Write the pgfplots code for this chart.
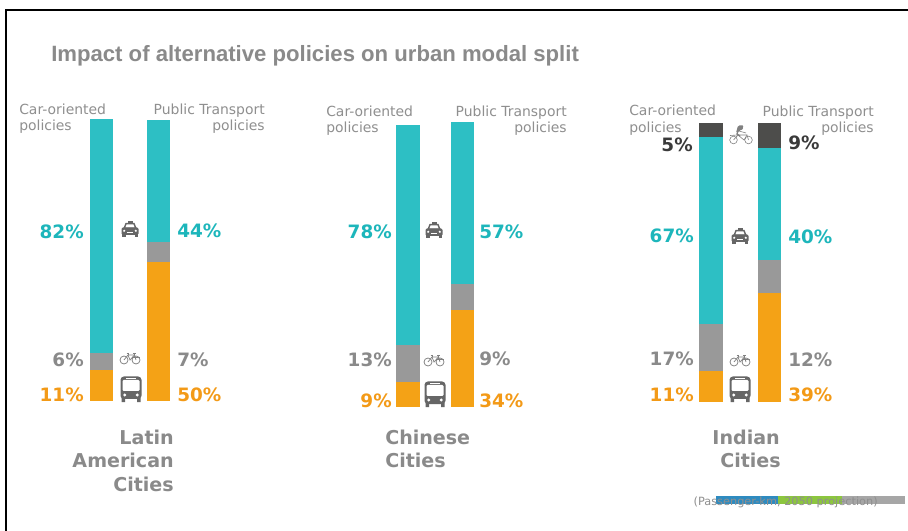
\documentclass[border=0pt]{standalone}
\usepackage{fontspec}
\usepackage{pgfplots}
\pgfplotsset{compat=1.18}
\setmainfont{DejaVu Sans}
\newfontfamily\titlefont{Liberation Sans}
\definecolor{carteal}{HTML}{2DBFC4}
\definecolor{slowgray}{HTML}{999999}
\definecolor{busorange}{HTML}{F4A216}
\definecolor{threedark}{HTML}{4D4D4B}
\definecolor{labteal}{HTML}{1DB6BB}
\definecolor{laborange}{HTML}{F39A17}
\definecolor{labgray}{HTML}{8A8A8A}
\definecolor{labdark}{HTML}{3A3A3A}
\definecolor{noteg}{HTML}{8F8F8F}
\definecolor{icon}{HTML}{666666}
\definecolor{iconlight}{HTML}{808080}
\definecolor{stripblue}{HTML}{2E8BC0}
\definecolor{stripgreen}{HTML}{8CC63F}
\definecolor{stripgray}{HTML}{A6A6A6}

% One stacked column: left, bottom, width, height (px), then
% public transport, slow modes, car, three-wheeler shares and their sum
\newcommand{\modalbar}[9]{%
\begin{axis}[at={(#1*0.75pt,-#2*0.75pt)},anchor=south west,scale only axis,
  width=#3*0.75pt,height=#4*0.75pt,hide axis,
  ybar stacked,bar width=#3*0.75pt,
  xmin=-0.5,xmax=0.5,ymin=0,ymax=#9,enlargelimits=false]
\addplot[fill=busorange,draw=none] coordinates {(0,#5)};
\addplot[fill=slowgray,draw=none] coordinates {(0,#6)};
\addplot[fill=carteal,draw=none] coordinates {(0,#7)};
\addplot[fill=threedark,draw=none] coordinates {(0,#8)};
\end{axis}}

\newcommand{\pctL}[4]{\node[anchor=base east,inner sep=0,text=#4,font=\fontsize{13.8pt}{15pt}\selectfont\bfseries] at (#1,#2+1) {#3\%};}
\newcommand{\pctR}[4]{\node[anchor=base west,inner sep=0,text=#4,font=\fontsize{13.8pt}{15pt}\selectfont\bfseries] at (#1,#2+1) {#3\%};}
\newcommand{\noteL}[3]{\node[anchor=base west,inner sep=0,text=noteg,font=\fontsize{10.45pt}{12pt}\selectfont] at (#1,#2) {#3};}
\newcommand{\noteR}[3]{\node[anchor=base east,inner sep=0,text=noteg,font=\fontsize{10.45pt}{12pt}\selectfont] at (#1,#2) {#3};}
\newcommand{\cityL}[3]{\node[anchor=base west,inner sep=0,text=labgray,font=\fontsize{14.3pt}{17pt}\selectfont\bfseries] at (#1,#2) {#3};}
\newcommand{\cityR}[3]{\node[anchor=base east,inner sep=0,text=labgray,font=\fontsize{14.3pt}{17pt}\selectfont\bfseries] at (#1,#2) {#3};}

% Transport pictograms, drawn around their centre in px units
\newcommand{\taxi}[2]{\begin{scope}[shift={(#1,#2)}]
  \fill[icon] (-2.5,-8) rectangle (2.5,-5.5);
  \fill[icon] (-6.5,-1) -- (-4.5,-6) -- (4.5,-6) -- (6.5,-1) -- cycle;
  \fill[white] (-4.6,-1.3) -- (-3.4,-4.6) -- (3.4,-4.6) -- (4.6,-1.3) -- cycle;
  \fill[icon,rounded corners=1pt] (-8.5,-1.5) rectangle (8.5,6);
  \fill[icon] (-8,5) rectangle (-4.5,8);
  \fill[icon] (4.5,5) rectangle (8,8);
  \fill[white] (-5.8,1.8) circle (1.2) (5.8,1.8) circle (1.2);
  \fill[white] (-3,3.2) rectangle (3,4.2);
\end{scope}}
\newcommand{\bikeicon}[2]{\begin{scope}[shift={(#1,#2)},iconlight,line width=.55pt]
  \draw (-6,2) circle (4) (6,2) circle (4);
  \draw (-6,2) -- (-2,-3) -- (4.5,-3) -- (6,2);
  \draw (-2,-3) -- (0,2) -- (4.5,-3);
  \draw (-3.5,-5) -- (-1,-5) (-2,-5) -- (-2,-3);
  \draw (3,-5) -- (5.5,-5) (4.5,-5) -- (4.5,-3);
  \draw (2,-0.5) -- (10,-0.5);
\end{scope}}
\newcommand{\busicon}[2]{\begin{scope}[shift={(#1,#2)}]
  \fill[icon,rounded corners=2.5pt] (-10.5,-12.5) rectangle (10.5,10);
  \fill[icon] (-9.5,9) rectangle (-6,13) (6,9) rectangle (9.5,13);
  \fill[white,rounded corners=.8pt] (-8.5,-9) rectangle (8.5,2);
  \fill[white] (-5,-11.4) rectangle (5,-10.4);
  \fill[white] (-6.3,6) circle (1.6) (6.3,6) circle (1.6);
\end{scope}}
\newcommand{\rickshaw}[2]{\begin{scope}[shift={(#1,#2)},iconlight,line width=.45pt]
  \draw (-7.5,5) circle (3.8) (7.5,5) circle (3.8);
  \draw (-7.5,5) -- (-3,0) -- (3,5) -- (6,0) -- (7.5,5);
  \draw (-3,0) -- (6,0) (-11,0.5) -- (-3,0);
  \fill (0,-7) circle (2);
  \fill[rounded corners=1pt] (-3,-9.5) -- (3,-9.5) -- (0,-5) -- (-5,-2) -- cycle;
  \draw[line width=1pt] (-3,-4) -- (-4,-1) -- (-1,1);
  \draw (-2,-4) -- (5,-2);
\end{scope}}

\begin{document}
\begin{tikzpicture}
\begin{scope}[x=0.75pt,y=-0.75pt]
\path[use as bounding box,fill=white] (0,0) rectangle (908,531);
% sheet edge
\draw[black,line width=1.1pt] (6,531) -- (6,10) -- (908,10);

\node[anchor=base west,inner sep=0,text=labgray,font=\titlefont\fontsize{16.6pt}{18pt}\selectfont\bfseries] at (51,62) {Impact of alternative policies on urban modal split};
\end{scope}

% Latin American cities
\modalbar{90}{401}{23}{282}{11}{6}{82}{0}{99}
\modalbar{147}{401}{23}{281}{50}{7}{44}{0}{101}
% Chinese cities
\modalbar{396}{407}{24}{282}{9}{13}{78}{0}{100}
\modalbar{451}{407}{23}{285}{34}{9}{57}{0}{100}
% Indian cities
\modalbar{699}{402}{24}{279}{11}{17}{67}{5}{100}
\modalbar{758}{402}{23}{279}{39}{12}{40}{9}{100}

\begin{scope}[x=0.75pt,y=-0.75pt]
\noteL{19}{115}{Car-oriented}\noteL{19}{131}{policies}
\noteR{265}{115}{Public Transport}\noteR{265}{131}{policies}
\noteL{326}{117}{Car-oriented}\noteL{326}{133}{policies}
\noteR{567}{117}{Public Transport}\noteR{567}{133}{policies}
\noteL{629}{116}{Car-oriented}\noteL{629}{133}{policies}
\noteR{874}{117}{Public Transport}\noteR{874}{133}{policies}

\pctL{84}{238}{82}{labteal}\pctL{84}{366}{6}{labgray}\pctL{84}{401}{11}{laborange}
\pctR{177}{237}{44}{labteal}\pctR{177}{366}{7}{labgray}\pctR{177}{401}{50}{laborange}
\pctL{392}{238}{78}{labteal}\pctL{392}{366}{13}{labgray}\pctL{392}{406}{9}{laborange}
\pctR{479}{238}{57}{labteal}\pctR{479}{365}{9}{labgray}\pctR{479}{406}{34}{laborange}
\pctL{693}{151}{5}{labdark}\pctL{694}{242}{67}{labteal}\pctL{694}{364}{17}{labgray}\pctL{694}{401}{11}{laborange}
\pctR{788}{149}{9}{labdark}\pctR{788}{243}{40}{labteal}\pctR{788}{366}{12}{labgray}\pctR{788}{401}{39}{laborange}

\cityR{174}{445}{Latin}\cityR{174}{467}{American}\cityR{174}{491}{Cities}
\cityL{385}{445}{Chinese}\cityL{385}{467}{Cities}
\cityR{780}{445}{Indian}\cityR{781}{467}{Cities}

\taxi{130}{229}\bikeicon{130}{358}\busicon{131}{389}
\taxi{434}{230}\bikeicon{434}{360}\busicon{435}{394}
\rickshaw{741}{135}\taxi{740}{236}\bikeicon{740}{360}\busicon{740}{389}

% footer strip and unit note
\fill[stripblue] (716,496) rectangle (778,504);
\fill[stripgreen] (778,496) rectangle (842,504);
\fill[stripgray] (842,496) rectangle (905,504);
\node[anchor=base east,inner sep=0,text=noteg,font=\fontsize{8.5pt}{10pt}\selectfont] at (878,505) {(Passenger-km, 2050 projection)};
\end{scope}
\end{tikzpicture}
\end{document}
